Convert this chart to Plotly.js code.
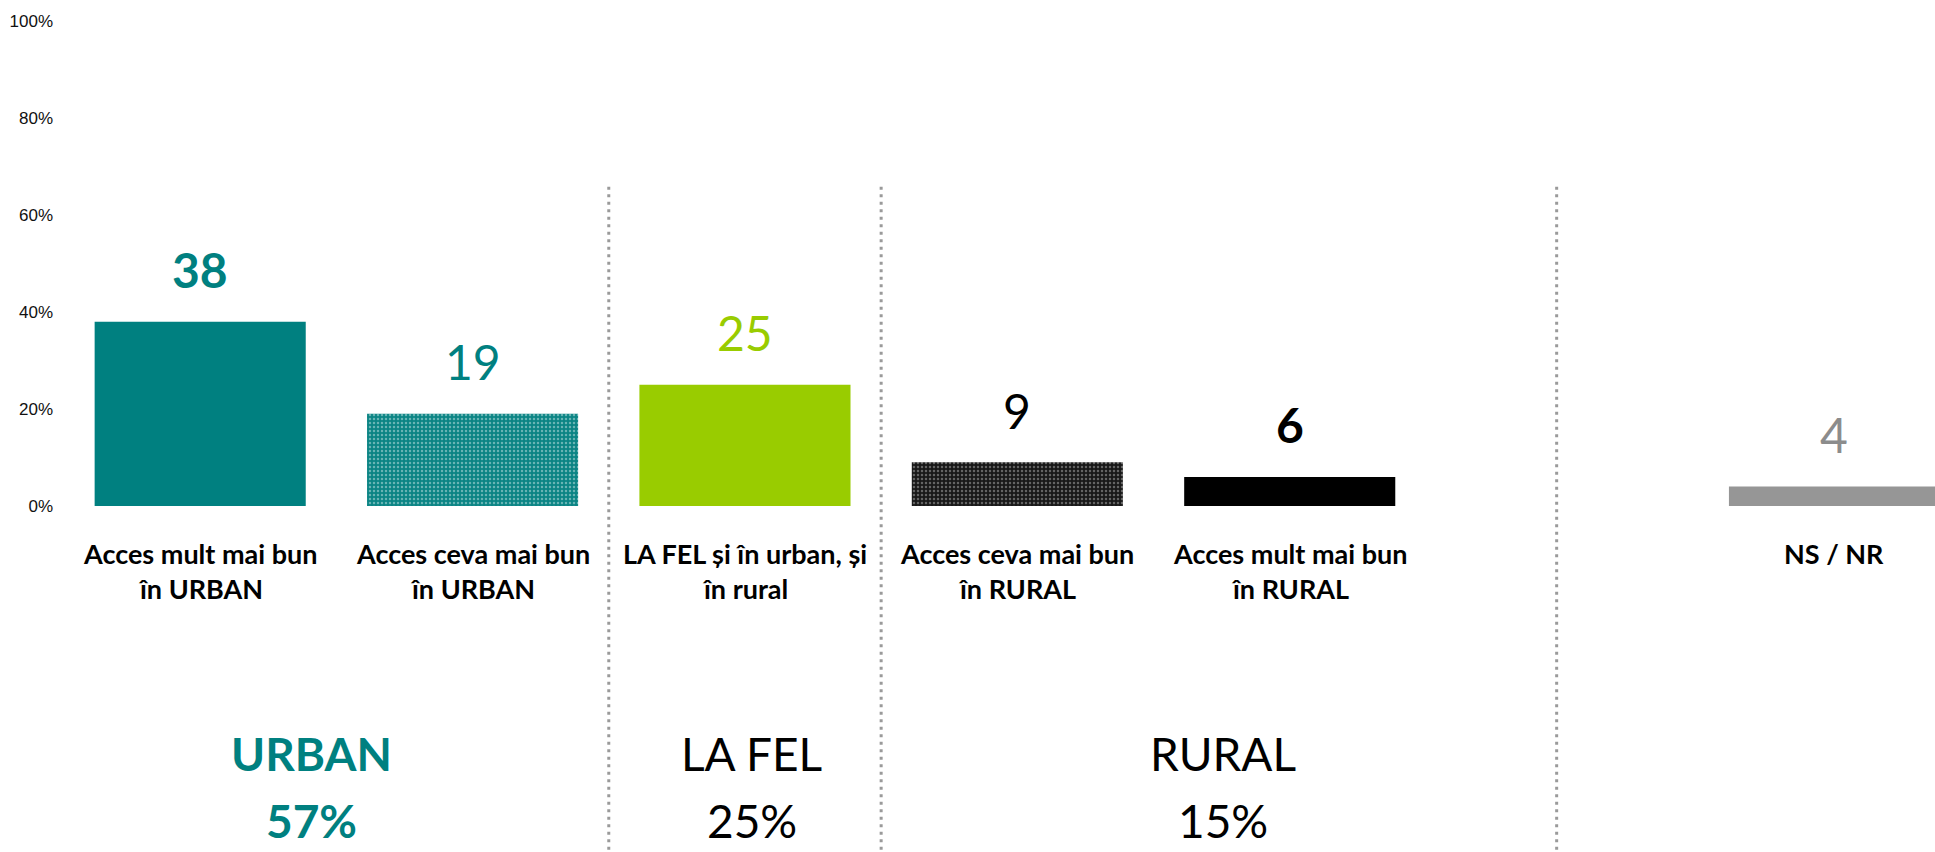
<!DOCTYPE html>
<html><head><meta charset="utf-8">
<script src="https://cdn.plot.ly/plotly-3.0.1.min.js"></script>
<style>html,body{margin:0;padding:0;background:#fff;overflow:hidden}#chart{width:1935px;height:852px}</style>
</head><body><div id="chart"></div>
<script>
// ---- data ----
const catLine1 = ["Acces mult mai bun", "Acces ceva mai bun", "LA FEL și în urban, și", "Acces ceva mai bun", "Acces mult mai bun", "NS / NR"];
const catLine2 = ["în URBAN", "în URBAN", "în rural", "în RURAL", "în RURAL", ""];
const values = [38, 19, 25, 9, 6, 4];
const yTickVals = [0, 20, 40, 60, 80, 100];
const yTickText = ["0%", "20%", "40%", "60%", "80%", "100%"];
const groupNames = ["URBAN", "LA FEL", "RURAL"];
const groupTotals = ["57%", "25%", "15%"];

// ---- styles ----
const TEAL = "#008080", GREEN = "#99CC00", GRAY = "#969696";
const barColors = [TEAL, TEAL, GREEN, "#000000", "#000000", GRAY];
const patterned = [false, true, false, true, false, false];
const patBg = [TEAL, "#0b8484", GREEN, "#181818", "#000000", GRAY];
const patFg = ["#fff", "#c4e4e4", "#fff", "#b0b0b0", "#fff", "#fff"];
const valueColors = [TEAL, TEAL, GREEN, "#000000", "#000000", "#8c8c8c"];
const valueBold = [true, false, false, false, true, false];
const groupColors = [TEAL, "#000000", "#000000"];
const groupBold = [true, false, false];
const groupX = [0.41, 2.025, 3.755];
const dividerX = [1.5, 2.5, 4.98];

const categories = catLine1.map((l, i) => (l + " " + catLine2[i]).trim());
const SPACER = " ";
const catOrder = categories.slice(0, 5).concat([SPACER, categories[5]]);

const FONT = "Lato, 'Open Sans', sans-serif";
const traces = values.map((v, i) => {
  const marker = {color: barColors[i], line: {width: 0}};
  if (patterned[i]) {
    marker.pattern = {shape: ".", fillmode: "overlay", bgcolor: patBg[i], fgcolor: patFg[i], size: 4, solidity: 0.3};
  }
  return {type: "bar", x: [categories[i]], y: [v], width: 0.775, marker: marker, hoverinfo: "skip"};
});

const annotations = [];
values.forEach((v, i) => {
  annotations.push({
    x: categories[i], y: v, xref: "x", yref: "y",
    text: valueBold[i] ? "<b>" + v + "</b>" : String(v),
    showarrow: false, yanchor: "middle", yshift: 52,
    font: {family: FONT, size: 48, color: valueColors[i]}
  });
  annotations.push({
    x: categories[i], y: -0.097, xref: "x", yref: "paper",
    text: "<b>" + catLine1[i] + "</b>", showarrow: false, yanchor: "middle",
    font: {family: FONT, size: 27, color: "#000"}
  });
  if (catLine2[i]) annotations.push({
    x: categories[i], y: -0.171, xref: "x", yref: "paper",
    text: "<b>" + catLine2[i] + "</b>", showarrow: false, yanchor: "middle",
    font: {family: FONT, size: 27, color: "#000"}
  });
});
groupNames.forEach((g, i) => {
  const w = s => groupBold[i] ? "<b>" + s + "</b>" : s;
  annotations.push({
    x: groupX[i], y: -0.511, xref: "x", yref: "paper", text: w(g), showarrow: false, yanchor: "middle",
    font: {family: FONT, size: 46, color: groupColors[i]}
  });
  annotations.push({
    x: groupX[i], y: -0.649, xref: "x", yref: "paper", text: w(groupTotals[i]), showarrow: false, yanchor: "middle",
    font: {family: FONT, size: 46, color: groupColors[i]}
  });
});

const shapes = dividerX.map(x => ({
  type: "line", xref: "x", yref: "paper", x0: x, x1: x, y0: 0.658, y1: -0.72,
  line: {color: "#9a9a9a", width: 3, dash: "3px,4.5px"}
}));

const layout = {
  width: 1935, height: 852,
  margin: {l: 64, r: 0, t: 21, b: 346, pad: 0},
  paper_bgcolor: "#fff", plot_bgcolor: "#fff",
  showlegend: false,
  barmode: "overlay",
  xaxis: {
    type: "category", categoryorder: "array", categoryarray: catOrder,
    range: [-0.5, 6.369], showticklabels: false, showgrid: false, zeroline: false,
    showline: false, ticks: "", fixedrange: true
  },
  yaxis: {
    range: [0, 100], tickvals: yTickVals, ticktext: yTickText,
    showgrid: false, zeroline: false, showline: false, ticks: "",
    ticklabelstandoff: 10,
    tickfont: {family: "'Liberation Sans', Arial, sans-serif", size: 17, color: "#111"},
    fixedrange: true
  },
  annotations: annotations,
  shapes: shapes
};

Plotly.newPlot("chart", traces, layout, {displayModeBar: false, staticPlot: true});
</script>
</body></html>
